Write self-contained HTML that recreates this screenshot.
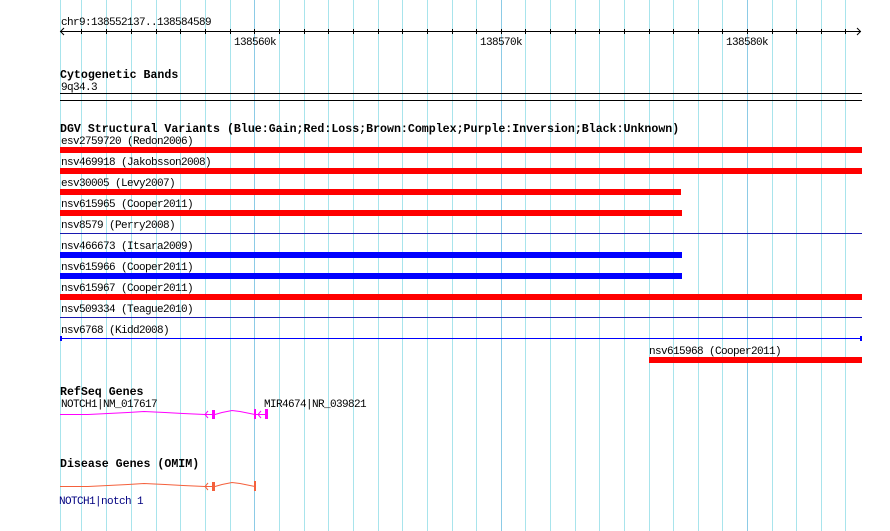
<!DOCTYPE html>
<html><head><meta charset="utf-8"><style>
html,body{margin:0;padding:0;background:#fff;}
svg{display:block;}
text{font-family:"Liberation Mono","DejaVu Sans Mono",monospace;font-size:11px;letter-spacing:-0.6px;fill:#000;}
.h{font-weight:bold;font-size:11.6px;letter-spacing:0;}
</style></head><body>
<svg width="890" height="531" viewBox="0 0 890 531" xmlns="http://www.w3.org/2000/svg">
<g stroke="#a8e4ec" stroke-width="1">
<line x1="60.5" y1="0" x2="60.5" y2="531"/>
<line x1="81.5" y1="0" x2="81.5" y2="531"/>
<line x1="106.5" y1="0" x2="106.5" y2="531"/>
<line x1="131.5" y1="0" x2="131.5" y2="531"/>
<line x1="156.5" y1="0" x2="156.5" y2="531"/>
<line x1="180.5" y1="0" x2="180.5" y2="531"/>
<line x1="205.5" y1="0" x2="205.5" y2="531"/>
<line x1="230.5" y1="0" x2="230.5" y2="531"/>
<line x1="279.5" y1="0" x2="279.5" y2="531"/>
<line x1="304.5" y1="0" x2="304.5" y2="531"/>
<line x1="328.5" y1="0" x2="328.5" y2="531"/>
<line x1="353.5" y1="0" x2="353.5" y2="531"/>
<line x1="378.5" y1="0" x2="378.5" y2="531"/>
<line x1="402.5" y1="0" x2="402.5" y2="531"/>
<line x1="427.5" y1="0" x2="427.5" y2="531"/>
<line x1="452.5" y1="0" x2="452.5" y2="531"/>
<line x1="476.5" y1="0" x2="476.5" y2="531"/>
<line x1="525.5" y1="0" x2="525.5" y2="531"/>
<line x1="550.5" y1="0" x2="550.5" y2="531"/>
<line x1="575.5" y1="0" x2="575.5" y2="531"/>
<line x1="599.5" y1="0" x2="599.5" y2="531"/>
<line x1="624.5" y1="0" x2="624.5" y2="531"/>
<line x1="649.5" y1="0" x2="649.5" y2="531"/>
<line x1="673.5" y1="0" x2="673.5" y2="531"/>
<line x1="698.5" y1="0" x2="698.5" y2="531"/>
<line x1="722.5" y1="0" x2="722.5" y2="531"/>
<line x1="772.5" y1="0" x2="772.5" y2="531"/>
<line x1="796.5" y1="0" x2="796.5" y2="531"/>
<line x1="821.5" y1="0" x2="821.5" y2="531"/>
<line x1="845.5" y1="0" x2="845.5" y2="531"/>
</g>
<g stroke="#8ccbe6" stroke-width="1">
<line x1="254.5" y1="0" x2="254.5" y2="531"/>
<line x1="501.5" y1="0" x2="501.5" y2="531"/>
<line x1="747.5" y1="0" x2="747.5" y2="531"/>
</g>
<text x="61" y="25">chr9:138552137..138584589</text>
<g stroke="#000" stroke-width="1" fill="none">
<line x1="60" y1="31.5" x2="861" y2="31.5"/>
<polyline points="64,28 60.5,31.5 64,35"/>
<polyline points="857,28 860.5,31.5 857,35"/>
</g>
<g stroke="#000">
<line x1="81.5" y1="29" x2="81.5" y2="34"/><line x1="106.5" y1="29" x2="106.5" y2="34"/><line x1="131.5" y1="29" x2="131.5" y2="34"/><line x1="156.5" y1="29" x2="156.5" y2="34"/><line x1="180.5" y1="29" x2="180.5" y2="34"/><line x1="205.5" y1="29" x2="205.5" y2="34"/><line x1="230.5" y1="29" x2="230.5" y2="34"/><line x1="254.5" y1="29" x2="254.5" y2="34"/><line x1="279.5" y1="29" x2="279.5" y2="34"/><line x1="304.5" y1="29" x2="304.5" y2="34"/><line x1="328.5" y1="29" x2="328.5" y2="34"/><line x1="353.5" y1="29" x2="353.5" y2="34"/><line x1="378.5" y1="29" x2="378.5" y2="34"/><line x1="402.5" y1="29" x2="402.5" y2="34"/><line x1="427.5" y1="29" x2="427.5" y2="34"/><line x1="452.5" y1="29" x2="452.5" y2="34"/><line x1="476.5" y1="29" x2="476.5" y2="34"/><line x1="501.5" y1="29" x2="501.5" y2="34"/><line x1="525.5" y1="29" x2="525.5" y2="34"/><line x1="550.5" y1="29" x2="550.5" y2="34"/><line x1="575.5" y1="29" x2="575.5" y2="34"/><line x1="599.5" y1="29" x2="599.5" y2="34"/><line x1="624.5" y1="29" x2="624.5" y2="34"/><line x1="649.5" y1="29" x2="649.5" y2="34"/><line x1="673.5" y1="29" x2="673.5" y2="34"/><line x1="698.5" y1="29" x2="698.5" y2="34"/><line x1="722.5" y1="29" x2="722.5" y2="34"/><line x1="747.5" y1="29" x2="747.5" y2="34"/><line x1="772.5" y1="29" x2="772.5" y2="34"/><line x1="796.5" y1="29" x2="796.5" y2="34"/><line x1="821.5" y1="29" x2="821.5" y2="34"/><line x1="845.5" y1="29" x2="845.5" y2="34"/>
</g>
<text x="255" y="45" text-anchor="middle">138560k</text>
<text x="501" y="45" text-anchor="middle">138570k</text>
<text x="747" y="45" text-anchor="middle">138580k</text>
<text class="h" x="60" y="78">Cytogenetic Bands</text>
<text x="61" y="90">9q34.3</text>
<rect x="60" y="93" width="802" height="1" fill="#000"/>
<rect x="60" y="100" width="802" height="1" fill="#000"/>
<text class="h" x="60" y="132">DGV Structural Variants (Blue:Gain;Red:Loss;Brown:Complex;Purple:Inversion;Black:Unknown)</text>
<text x="61" y="144">esv2759720 (Redon2006)</text>
<rect x="60" y="147" width="802" height="6" fill="#f00"/>
<text x="61" y="165">nsv469918 (Jakobsson2008)</text>
<rect x="60" y="168" width="802" height="6" fill="#f00"/>
<text x="61" y="186">esv30005 (Levy2007)</text>
<rect x="60" y="189" width="621" height="6" fill="#f00"/>
<text x="61" y="207">nsv615965 (Cooper2011)</text>
<rect x="60" y="210" width="622" height="6" fill="#f00"/>
<text x="61" y="228">nsv8579 (Perry2008)</text>
<rect x="60" y="233" width="802" height="1" fill="#1818b0"/>
<text x="61" y="249">nsv466673 (Itsara2009)</text>
<rect x="60" y="252" width="622" height="6" fill="#00f"/>
<text x="61" y="270">nsv615966 (Cooper2011)</text>
<rect x="60" y="273" width="622" height="6" fill="#00f"/>
<text x="61" y="291">nsv615967 (Cooper2011)</text>
<rect x="60" y="294" width="802" height="6" fill="#f00"/>
<text x="61" y="312">nsv509334 (Teague2010)</text>
<rect x="60" y="317" width="802" height="1" fill="#1818b0"/>
<text x="61" y="333">nsv6768 (Kidd2008)</text>
<rect x="60" y="338" width="802" height="1" fill="#00f"/>
<rect x="60" y="336" width="2" height="5" fill="#00f"/>
<rect x="860" y="336" width="2" height="5" fill="#00f"/>
<text x="649" y="354">nsv615968 (Cooper2011)</text>
<rect x="649" y="357" width="213" height="6" fill="#f00"/>
<text class="h" x="60" y="395">RefSeq Genes</text>
<text x="61" y="407">NOTCH1|NM_017617</text>
<text x="264" y="407">MIR4674|NR_039821</text>
<g fill="none" stroke="#f0f" stroke-width="1">
<polyline points="60,414.5 88,414.5 108,413.5 128,412.5 144,411.5 165,412.5 183,413.5 205,414.5 213,414.5"/>
<polyline points="208,411 205,414.5 208,418"/>
<polyline points="215,414.5 222,412.5 232,410.5 240,411.5 255,414.5"/>
<polyline points="261,411 258,414.5 261,418"/>
<line x1="255" y1="414.5" x2="266" y2="414.5"/>
</g>
<rect x="212" y="410" width="3" height="9" fill="#f0f"/>
<rect x="254" y="409" width="2" height="10" fill="#f0f"/>
<rect x="265" y="409" width="3" height="10" fill="#f0f"/>
<text class="h" x="60" y="467">Disease Genes (OMIM)</text>
<g fill="none" stroke="#f4603c" stroke-width="1">
<polyline points="60,486.5 88,486.5 108,485.5 128,484.5 144,483.5 165,484.5 183,485.5 205,486.5 213,486.5"/>
<polyline points="208,483 205,486.5 208,490"/>
<polyline points="215,486.5 222,484.5 232,482.5 240,483.5 255,486.5"/>
</g>
<rect x="212" y="482" width="3" height="9" fill="#f4603c"/>
<rect x="254" y="481" width="2" height="10" fill="#f4603c"/>
<text x="59" y="504" style="fill:#000080">NOTCH1|notch 1</text>
</svg>
</body></html>
